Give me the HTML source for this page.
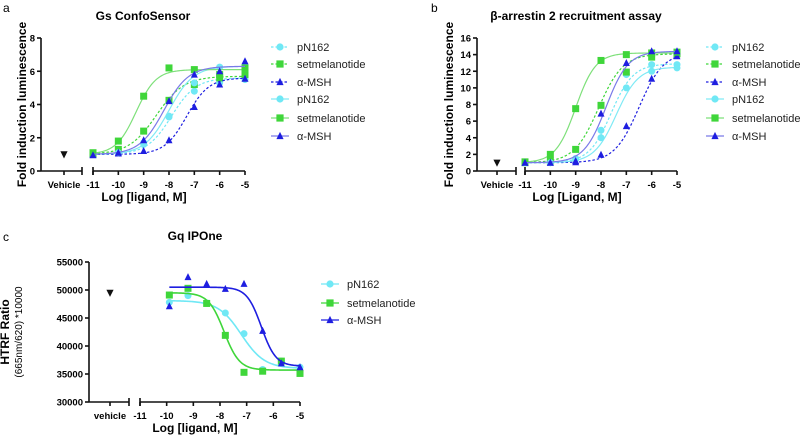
<!DOCTYPE html>
<html><head><meta charset="utf-8"><style>
html,body{margin:0;padding:0;background:#fff;}
svg{display:block;font-family:"Liberation Sans",Arial,sans-serif;}
.t{font-weight:bold;font-size:12px;}
.tk{font-weight:bold;font-size:9.5px;}
.yt2{font-size:10px;}
.lg{font-size:11px;}
</style></head><body>
<svg id="fig" width="800" height="438" viewBox="0 0 800 438" xmlns="http://www.w3.org/2000/svg"></svg>
<script>
// ---- Panel a data ----
const aX = [-11,-10,-9,-8,-7,-6,-5];
const aNames = ["pN162","setmelanotide","α-MSH","pN162","setmelanotide","α-MSH"];
const aDashed = [true,true,true,false,false,false];
const aY = [
 [1.0,1.1,1.6,3.3,4.8,5.3,5.5],
 [1.0,1.3,2.4,4.25,5.2,5.6,5.8],
 [1.0,1.05,1.2,1.85,3.85,5.2,5.55],
 [1.0,1.1,1.7,3.25,5.3,6.25,6.35],
 [1.1,1.8,4.5,6.2,6.1,5.8,6.2],
 [0.95,1.1,1.85,4.2,5.8,6.0,6.6]];
const aFit = [[1,5.6,-7.9,0.9],[1,5.7,-8.5,0.8],[1,5.6,-7.3,1],[1,6.3,-8.0,0.9],[1,6.1,-9.3,1.1],[1,6.3,-8.2,0.9]];
const aVeh = 1.0;
const aTicks = [0,2,4,6,8];
// ---- Panel b data ----
const bY = [
 [1.0,1.0,1.5,4.9,11.6,12.8,12.8],
 [1.0,1.2,2.6,7.9,11.9,13.7,14.1],
 [1.0,1.0,1.05,1.95,5.4,11.1,13.8],
 [1.0,1.0,1.4,4.0,10.0,12.0,12.4],
 [1.1,2.0,7.5,13.3,14.0,14.2,14.3],
 [1.0,1.0,1.2,6.9,13.0,14.4,14.4]];
const bFit = [[1,12.9,-7.6,1],[1,14.1,-8.1,0.9],[1,14.3,-6.5,0.9],[1,12.5,-7.4,1],[1,14.2,-9.0,1.1],[1,14.4,-7.8,1]];
const bVeh = 1.0;
const bTicks = [0,2,4,6,8,10,12,14,16];
// ---- Panel c data ----
const cX = [-9.9,-9.2,-8.5,-7.8,-7.1,-6.4,-5.7,-5];
const cNames = ["pN162","setmelanotide","α-MSH"];
const cY = [
 [47800,49000,47700,45900,42200,35800,37300,36200],
 [49100,50300,47600,41900,35300,35500,37300,35100],
 [47100,52300,51100,50200,51100,42700,36900,36200]];
const cFit = [[48100,36000,-7.2,1],[49500,35700,-7.85,1.5],[50500,36400,-6.45,1.6]];
const cVeh = 49500;
const cTicks = [30000,35000,40000,45000,50000,55000];
const xTicks = [-11,-10,-9,-8,-7,-6,-5];

const colors = ["#70e8f5","#3fd63a","#1e1ee0","#70e8f5","#3fd63a","#1e1ee0"];
const lineColors = ["#70e8f5","#3fd63a","#1e1ee0","#80eaf5","#7ee07a","#7a7ae8"];
const cLine = ["#70e8f5","#3fd63a","#1e1ee0"];
const shapes = ["circle","square","tri","circle","square","tri"];
const NS = "http://www.w3.org/2000/svg";
const svg = document.getElementById("fig");
function mk(tag, attrs, parent, txt){
  const e = document.createElementNS(NS, tag);
  for (const k in attrs) e.setAttribute(k, attrs[k]);
  if (txt !== undefined) e.textContent = txt;
  (parent||svg).appendChild(e); return e;
}
function marker(shape, x, y, col, g, s){
  s = s||3.6; let e;
  if (shape==="circle") e = mk("circle",{cx:x,cy:y,r:s,fill:col},g);
  else if (shape==="square") e = mk("rect",{x:x-s,y:y-s,width:2*s,height:2*s,fill:col},g);
  else if (shape==="tri") e = mk("polygon",{points:`${x},${y-s-0.5} ${x-s},${y+s-0.5} ${x+s},${y+s-0.5}`,fill:col},g);
  else e = mk("polygon",{points:`${x-s},${y-s+0.5} ${x+s},${y-s+0.5} ${x},${y+s+0.5}`,fill:"#111"},g);
  return e;
}
function hill(p, lx){ return p[0] + (p[1]-p[0])/(1+Math.pow(10,(p[2]-lx)*p[3])); }

function panel(cfg){
  const g = mk("g",{});
  
  
  const sy = v => cfg.y0 - (v - cfg.ymin)/(cfg.ymax-cfg.ymin)*(cfg.y0-cfg.y1);
  const sx = v => cfg.xs + (v+11)/6*(cfg.xe-cfg.xs);
  const L = mk("text",{x:cfg.lx,y:cfg.ly,"font-size":"12"},g,cfg.letter);
   
  const T = mk("text",{x:cfg.tx,y:cfg.ty,"text-anchor":"middle",class:"t"},g,cfg.title);
   
  const ax = mk("g",{stroke:"#111","stroke-width":"1.6",fill:"none"},g);
   
  mk("line",{x1:cfg.ax,y1:cfg.y1,x2:cfg.ax,y2:cfg.y0},ax);
  mk("line",{x1:cfg.ax,y1:cfg.y0,x2:cfg.be,y2:cfg.y0},ax);
  mk("line",{x1:cfg.be,y1:cfg.y0-4,x2:cfg.be,y2:cfg.y0+4},ax);
  mk("line",{x1:cfg.vx,y1:cfg.y0,x2:cfg.vx,y2:cfg.y0+4},ax);
  mk("line",{x1:cfg.xs,y1:cfg.y0,x2:cfg.xe,y2:cfg.y0},ax);
  mk("line",{x1:cfg.xs,y1:cfg.y0-4,x2:cfg.xs,y2:cfg.y0+4},ax);
  cfg.yt.forEach(v=>{
    mk("line",{x1:cfg.ax-4,y1:sy(v),x2:cfg.ax,y2:sy(v)},ax);
    const t = mk("text",{x:cfg.ax-6,y:sy(v)+3.5,"text-anchor":"end",class:"tk"},g,String(v));
     
  });
  xTicks.forEach(v=>{
    mk("line",{x1:sx(v),y1:cfg.y0,x2:sx(v),y2:cfg.y0+4},ax);
    const t = mk("text",{x:sx(v),y:cfg.y0+17,"text-anchor":"middle",class:"tk"},g,String(v));
     
  });
  const vt = mk("text",{x:cfg.vx,y:cfg.y0+17,"text-anchor":"middle",class:"tk"},g,cfg.vlabel);
   
  const xt = mk("text",{x:cfg.xtx,y:cfg.y0+30,"text-anchor":"middle",class:"t"},g,cfg.xtitle);
   
  cfg.ytitle.forEach((s,i)=>{
    const cy = (cfg.y0+cfg.y1)/2;
    const x = cfg.ytx + i*13;
    const yt = mk("text",{x:x,y:cy,"text-anchor":"middle",class:i?"yt2":"t",transform:`rotate(-90 ${x} ${cy})`,"font-size":i?"10":"11.5"},g,s);
     
  });
  const vm = marker("inv", cfg.vx, sy(cfg.veh), "#111", g, 3.6);
   
  cfg.series.forEach((sr,i)=>{
    const sg = mk("g",{},g);
    
    
    let d=""; const n=120;
    for(let k=0;k<=n;k++){ const lx = sr.x0 + (sr.x1-sr.x0)*k/n; d += (k?"L":"M")+sx(lx).toFixed(2)+","+sy(hill(sr.fit,lx)).toFixed(2); }
    const p = mk("path",{d:d,fill:"none",stroke:sr.lc,"stroke-width":sr.lw,"stroke-dasharray":sr.dash?"2.5,2":"none"},sg);
     
    sr.xs.forEach((xv,k)=>{
      const m = marker(sr.shape, sx(xv), sy(sr.ys[k]), sr.col, sg, 3.5);
       
    });
    const ly = cfg.legY[i];
    const le = mk("g",{},g);
     
    mk("line",{x1:cfg.legX-9,y1:ly,x2:cfg.legX+9,y2:ly,stroke:sr.lc,"stroke-width":1.3,"stroke-dasharray":sr.dash?"2.5,2":"none"},le);
    marker(sr.shape, cfg.legX, ly, sr.col, le, 3.6);
    mk("text",{x:cfg.legX+17,y:ly+4,class:"lg",fill:"#222"},le,sr.name);
  });
}
function abSeries(Y, F){
  return Y.map((ys,i)=>({name:aNames[i],xs:aX,ys:ys,fit:F[i],col:colors[i],lc:lineColors[i],shape:shapes[i],dash:aDashed[i],lw:1.2,x0:-11,x1:-5}));
}
panel({name:"panel-a-gs-confosensor",letter:"a",lx:3,ly:12,title:"Gs ConfoSensor",tx:143,ty:20,
  ax:41,y0:171,y1:38,ymin:0,ymax:8,yt:aTicks,be:82,vx:64,vlabel:"Vehicle",xs:93,xe:245,xtx:144,
  xtitle:"Log [ligand, M]",ytitle:["Fold induction luminescence"],ytx:26,veh:aVeh,
  series:abSeries(aY,aFit),legX:280,legY:[47,64,82,99,118,136]});
panel({name:"panel-b-arrestin",letter:"b",lx:431,ly:12,title:"β-arrestin 2 recruitment assay",tx:576,ty:20,
  ax:477,y0:171,y1:38,ymin:0,ymax:16,yt:bTicks,be:516,vx:497,vlabel:"Vehicle",xs:525,xe:677,xtx:577,
  xtitle:"Log [Ligand, M]",ytitle:["Fold induction luminescence"],ytx:453,veh:bVeh,
  series:abSeries(bY,bFit),legX:715,legY:[47,64,82,99,118,136]});
panel({name:"panel-c-gq-ipone",letter:"c",lx:3,ly:241,title:"Gq IPOne",tx:195,ty:240,
  ax:89,y0:402,y1:262,ymin:30000,ymax:55000,yt:cTicks,be:129,vx:110,vlabel:"vehicle",xs:140,xe:300,xtx:195,
  xtitle:"Log [ligand, M]",ytitle:["HTRF Ratio","(665nm/620) *10000"],ytx:9,veh:cVeh,
  series:cY.map((ys,i)=>({name:cNames[i],xs:cX,ys:ys,fit:cFit[i],col:colors[i],lc:cLine[i],shape:shapes[i],dash:false,lw:1.6,x0:-9.9,x1:-5})),
  legX:330,legY:[284,303,320]});
</script>
</body></html>
